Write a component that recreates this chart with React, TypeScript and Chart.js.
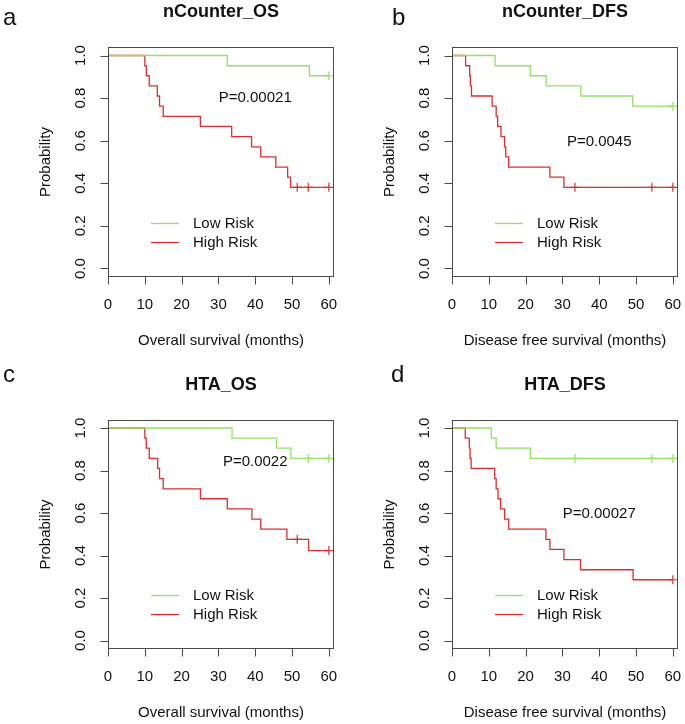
import React, { useEffect, useRef } from 'react';
import { Chart, registerables } from 'chart.js';
Chart.register(...registerables);

// ---------- data ----------
const xTicks = [0, 10, 20, 30, 40, 50, 60];
const yTicks = [0, 0.2, 0.4, 0.6, 0.8, 1.0];
const yTickLabels = ['0.0', '0.2', '0.4', '0.6', '0.8', '1.0'];
const legendLabels = ['Low Risk', 'High Risk'];

// Panel a: nCounter_OS
const aLowTimes = [32.4, 54.7];
const aLowSurv = [0.952, 0.905];
const aLowCensor = [60];
const aHighTimes = [10.0, 10.4, 11.2, 13.4, 14.0, 15.0, 25.1, 33.6, 39.0, 41.5, 45.6, 48.8, 49.6];
const aHighSurv = [0.952, 0.905, 0.857, 0.81, 0.762, 0.714, 0.667, 0.619, 0.571, 0.524, 0.476, 0.429, 0.381];
const aHighCensor = [51.4, 54.4, 60];

// Panel b: nCounter_DFS
const bLowTimes = [11.7, 21.3, 25.6, 35.0, 49.1];
const bLowSurv = [0.952, 0.905, 0.857, 0.81, 0.762];
const bLowCensor = [60];
const bHighTimes = [3.7, 4.8, 5.0, 5.3, 10.9, 12.0, 12.4, 13.3, 14.3, 14.6, 15.4, 26.6, 30.4];
const bHighSurv = [0.952, 0.905, 0.857, 0.81, 0.762, 0.714, 0.667, 0.619, 0.571, 0.524, 0.476, 0.429, 0.381];
const bHighCensor = [33.4, 54.3, 60];

// Panel c: HTA_OS
const cLowTimes = [33.7, 45.8, 49.7];
const cLowSurv = [0.952, 0.905, 0.857];
const cLowCensor = [54.4, 60];
const cHighTimes = [10.0, 10.4, 11.2, 13.5, 14.0, 15.0, 25.1, 32.4, 39.1, 41.5, 48.6, 54.5];
const cHighSurv = [0.952, 0.905, 0.857, 0.81, 0.762, 0.714, 0.667, 0.619, 0.571, 0.524, 0.476, 0.423];
const cHighCensor = [51.4, 60];

// Panel d: HTA_DFS
const dLowTimes = [10.7, 12.0, 21.3];
const dLowSurv = [0.952, 0.905, 0.857];
const dLowCensor = [33.4, 54.3, 60];
const dHighTimes = [3.6, 4.7, 4.9, 5.2, 11.6, 12.0, 12.5, 13.2, 14.3, 15.4, 25.5, 26.6, 30.4, 34.9, 49.2];
const dHighSurv = [0.952, 0.905, 0.857, 0.81, 0.762, 0.714, 0.667, 0.619, 0.571, 0.524, 0.476, 0.429, 0.381, 0.333, 0.286];
const dHighCensor = [60];

const titles = ['nCounter_OS', 'nCounter_DFS', 'HTA_OS', 'HTA_DFS'];
const letters = ['a', 'b', 'c', 'd'];
const xTitles = ['Overall survival (months)', 'Disease free survival (months)', 'Overall survival (months)', 'Disease free survival (months)'];
const pTexts = ['P=0.00021', 'P=0.0045', 'P=0.0022', 'P=0.00027'];

// ---------- styling / layout ----------
const GREEN = '#92e266';
const RED = '#dc2f2f';
const AXIS = '#4a4a4a';
const TEXT = '#111111';
const FONT = '"Liberation Sans", Arial, Helvetica, sans-serif';

type Panel = {
  left: number; top: number; w: number; h: number;
  pad: { left: number; top: number; right: number; bottom: number };
  letterX: number; letterY: number;
  pPos: [number, number];
  low: [number[], number[], number[]];
  high: [number[], number[], number[]];
};

const panels: Panel[] = [
  { left: 0, top: 0, w: 342, h: 362, pad: { left: 108, top: 47, right: 8, bottom: 85 }, letterX: 3, letterY: 25, pPos: [40, 0.8],
    low: [aLowTimes, aLowSurv, aLowCensor], high: [aHighTimes, aHighSurv, aHighCensor] },
  { left: 342, top: 0, w: 343, h: 362, pad: { left: 110, top: 47, right: 7, bottom: 85 }, letterX: 50, letterY: 25, pPos: [40, 0.595],
    low: [bLowTimes, bLowSurv, bLowCensor], high: [bHighTimes, bHighSurv, bHighCensor] },
  { left: 0, top: 362, w: 342, h: 362, pad: { left: 108, top: 57.5, right: 8, bottom: 75 }, letterX: 3, letterY: 20, pPos: [40, 0.843],
    low: [cLowTimes, cLowSurv, cLowCensor], high: [cHighTimes, cHighSurv, cHighCensor] },
  { left: 342, top: 362, w: 343, h: 362, pad: { left: 110, top: 57.5, right: 7, bottom: 75 }, letterX: 49, letterY: 20, pPos: [40, 0.597],
    low: [dLowTimes, dLowSurv, dLowCensor], high: [dHighTimes, dHighSurv, dHighCensor] },
];

function kmPoints(times: number[], surv: number[], censor: number[]) {
  const pts = [{ x: 0, y: 1 }];
  times.forEach((t, i) => pts.push({ x: t, y: surv[i] }));
  const last = Math.max(...censor, times[times.length - 1]);
  pts.push({ x: last, y: surv[surv.length - 1] });
  return pts;
}

function censorPoints(times: number[], surv: number[], censor: number[]) {
  return censor.map((c) => {
    let s = 1;
    times.forEach((t, i) => { if (t <= c) s = surv[i]; });
    return { x: c, y: s };
  });
}

function makePlugin(idx: number) {
  const panel = panels[idx];
  return {
    id: 'rstyle' + idx,
    afterDraw(chart: any) {
      const { ctx, chartArea: a, scales } = chart;
      const x = scales.x, y = scales.y;
      ctx.save();
      // box
      ctx.strokeStyle = AXIS;
      ctx.lineWidth = 1;
      const L = Math.round(a.left) + 0.5, T = Math.round(a.top) + 0.5;
      const R = Math.round(a.right) - 0.5, B = Math.round(a.bottom) - 0.5;
      ctx.strokeRect(L, T, R - L, B - T);
      // x ticks
      ctx.beginPath();
      xTicks.forEach((v) => {
        const px = Math.round(x.getPixelForValue(v)) + 0.5;
        ctx.moveTo(px, B);
        ctx.lineTo(px, B + 8);
      });
      yTicks.forEach((v) => {
        const py = Math.round(y.getPixelForValue(v)) + 0.5;
        ctx.moveTo(L, py);
        ctx.lineTo(L - 8, py);
      });
      ctx.stroke();
      // tick labels
      ctx.fillStyle = TEXT;
      ctx.font = `15px ${FONT}`;
      ctx.textAlign = 'center';
      ctx.textBaseline = 'middle';
      xTicks.forEach((v) => {
        ctx.fillText(String(v), x.getPixelForValue(v), B + 28);
      });
      yTicks.forEach((v, i) => {
        ctx.save();
        ctx.translate(L - 28, y.getPixelForValue(v));
        ctx.rotate(-Math.PI / 2);
        ctx.fillText(yTickLabels[i], 0, 0);
        ctx.restore();
      });
      // axis titles
      ctx.fillText(xTitles[idx], (L + R) / 2, B + 64);
      ctx.save();
      ctx.translate(L - 63, (T + B) / 2);
      ctx.rotate(-Math.PI / 2);
      ctx.fillText('Probability', 0, 0);
      ctx.restore();
      // title
      ctx.font = `bold 18px ${FONT}`;
      ctx.fillText(titles[idx], (L + R) / 2, T - 35);
      // letter
      ctx.font = `24px ${FONT}`;
      ctx.textAlign = 'left';
      ctx.textBaseline = 'alphabetic';
      ctx.fillText(letters[idx], panel.letterX, panel.letterY);
      // p value
      ctx.font = `15px ${FONT}`;
      ctx.textAlign = 'center';
      ctx.textBaseline = 'middle';
      ctx.fillText(pTexts[idx], x.getPixelForValue(panel.pPos[0]), y.getPixelForValue(panel.pPos[1]));
      // legend
      const colors = [GREEN, RED];
      const legY = [0.212, 0.123];
      legendLabels.forEach((lab, i) => {
        const py = Math.round(y.getPixelForValue(legY[i])) + 0.5;
        ctx.strokeStyle = colors[i];
        ctx.lineWidth = 1.3;
        ctx.beginPath();
        ctx.moveTo(x.getPixelForValue(11.7), py);
        ctx.lineTo(x.getPixelForValue(19.3), py);
        ctx.stroke();
        ctx.fillStyle = TEXT;
        ctx.textAlign = 'left';
        ctx.fillText(lab, x.getPixelForValue(23.1), py);
      });
      ctx.restore();
    },
  };
}

function KMPanel({ idx }: { idx: number }) {
  const ref = useRef<HTMLCanvasElement>(null);
  const panel = panels[idx];
  useEffect(() => {
    if (!ref.current) return;
    const [lt, ls, lc] = panel.low;
    const [ht, hs, hc] = panel.high;
    const chart = new Chart(ref.current, {
      type: 'line',
      data: {
        datasets: [
          { label: 'Low Risk', data: kmPoints(lt, ls, lc), borderColor: GREEN, borderWidth: 1.3, stepped: true, pointRadius: 0, fill: false },
          { label: 'High Risk', data: kmPoints(ht, hs, hc), borderColor: RED, borderWidth: 1.3, stepped: true, pointRadius: 0, fill: false },
          { label: 'Low censor', data: censorPoints(lt, ls, lc), showLine: false, pointStyle: 'cross', pointRadius: 4.5, borderColor: GREEN, borderWidth: 1.2 },
          { label: 'High censor', data: censorPoints(ht, hs, hc), showLine: false, pointStyle: 'cross', pointRadius: 4.5, borderColor: RED, borderWidth: 1.2 },
        ],
      } as any,
      options: {
        animation: false,
        responsive: false,
        devicePixelRatio: 1,
        layout: { padding: panel.pad },
        scales: {
          x: { type: 'linear', min: 0, max: 61.4, display: false },
          y: { type: 'linear', min: -0.04, max: 1.04, display: false },
        },
        plugins: { legend: { display: false }, tooltip: { enabled: false } },
      } as any,
      plugins: [makePlugin(idx)],
    });
    return () => chart.destroy();
  }, []);
  return (
    <div style={{ position: 'absolute', left: panel.left, top: panel.top, width: panel.w, height: panel.h }}>
      <canvas ref={ref} width={panel.w} height={panel.h} style={{ display: 'block' }} />
    </div>
  );
}

export default function App() {
  return (
    <div style={{ position: 'absolute', left: 0, top: 0, width: 685, height: 724, background: '#fff' }}>
      {panels.map((_, i) => <KMPanel key={i} idx={i} />)}
    </div>
  );
}
